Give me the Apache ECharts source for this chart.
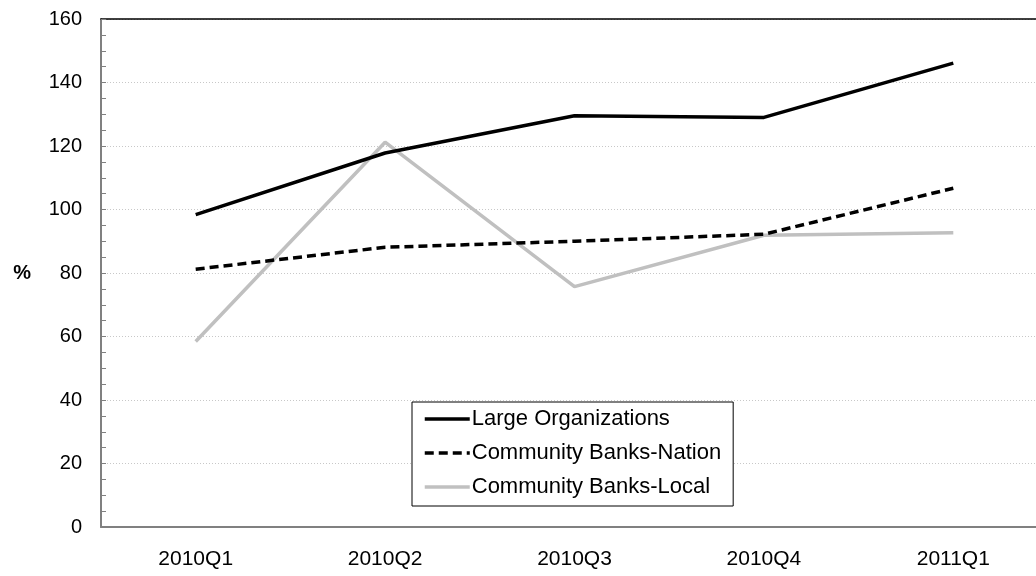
<!DOCTYPE html>
<html>
<head>
<meta charset="utf-8">
<script src="https://cdn.jsdelivr.net/npm/echarts@6/dist/echarts.min.js"></script>
<style>
  html, body { margin: 0; padding: 0; background: #fff; }
  #chart { width: 1036px; height: 576px; }
</style>
</head>
<body>
<div id="chart"></div>
<script>
// Quarterly ratios (%) by bank group
const quarters = ['2010Q1', '2010Q2', '2010Q3', '2010Q4', '2011Q1'];
const largeOrganizations = [98.4, 117.8, 129.5, 129.0, 146.1];
const communityNation = [81.2, 88.1, 90.0, 92.2, 106.7];
const communityLocal = [58.4, 121.2, 75.7, 91.9, 92.7];
const yTicks = { min: 0, max: 160, interval: 20 };

const font = 'Arial, "Liberation Sans", sans-serif';
const chart = echarts.init(document.getElementById('chart'));

chart.setOption({
  backgroundColor: '#ffffff',
  animation: false,
  textStyle: { fontFamily: font },
  // the plot area runs past the right edge of the canvas
  grid: { left: 101, top: 19, width: 947, height: 508, containLabel: false, outerBoundsMode: 'none' },
  legend: {
    orient: 'vertical',
    left: 412,
    top: 402,
    padding: [6, 12, 8, 11],
    itemWidth: 45,
    itemHeight: 14,
    itemGap: 12,
    backgroundColor: '#ffffff',
    borderColor: '#000000',
    borderWidth: 1,
    borderRadius: 0,
    itemStyle: { opacity: 0 },
    lineStyle: { width: 3.5 },
    textStyle: { fontSize: 22, color: '#000000', fontFamily: font, padding: [0, 0, 0, -3] },
    data: ['Large Organizations', 'Community Banks-Nation', 'Community Banks-Local']
  },
  xAxis: [
    {
      type: 'category',
      data: quarters,
      boundaryGap: true,
      axisLine: { lineStyle: { color: '#808080', width: 2 } },
      axisTick: { inside: true, length: 6, lineStyle: { color: '#808080', width: 1 } },
      axisLabel: { color: '#000000', fontSize: 21, margin: 22, fontFamily: font },
      splitLine: { show: false }
    },
    {
      // top frame line of the plot area
      type: 'category',
      position: 'top',
      data: quarters,
      axisLine: { lineStyle: { color: '#000000', width: 1.5 } },
      axisTick: { show: false },
      axisLabel: { show: false },
      splitLine: { show: false }
    }
  ],
  yAxis: {
    type: 'value',
    min: yTicks.min,
    max: yTicks.max,
    interval: yTicks.interval,
    name: '%',
    nameLocation: 'middle',
    nameRotate: 0,
    nameGap: 70,
    nameTextStyle: { fontSize: 20, fontWeight: 'bold', color: '#000000', fontFamily: font },
    axisLine: { show: true, lineStyle: { color: '#808080', width: 2 } },
    axisTick: { show: true, inside: true, length: 5, lineStyle: { color: '#808080', width: 1 } },
    minorTick: { show: true, splitNumber: 4, length: 5, lineStyle: { color: '#808080', width: 1 } },
    axisLabel: { color: '#000000', fontSize: 20, margin: 19, fontFamily: font },
    splitLine: { show: true, lineStyle: { color: '#c8c8c8', width: 1, type: [1, 2] } }
  },
  series: [
    {
      name: 'Large Organizations',
      type: 'line',
      data: largeOrganizations,
      symbol: 'none',
      lineStyle: { color: '#000000', width: 3.5 },
      itemStyle: { color: '#000000' },
      z: 4
    },
    {
      name: 'Community Banks-Nation',
      type: 'line',
      data: communityNation,
      symbol: 'none',
      lineStyle: { color: '#000000', width: 3.5, type: [9, 5] },
      itemStyle: { color: '#000000' },
      z: 3
    },
    {
      name: 'Community Banks-Local',
      type: 'line',
      data: communityLocal,
      symbol: 'none',
      lineStyle: { color: '#c0c0c0', width: 3.5 },
      itemStyle: { color: '#c0c0c0' },
      z: 2
    }
  ]
});
</script>
</body>
</html>
